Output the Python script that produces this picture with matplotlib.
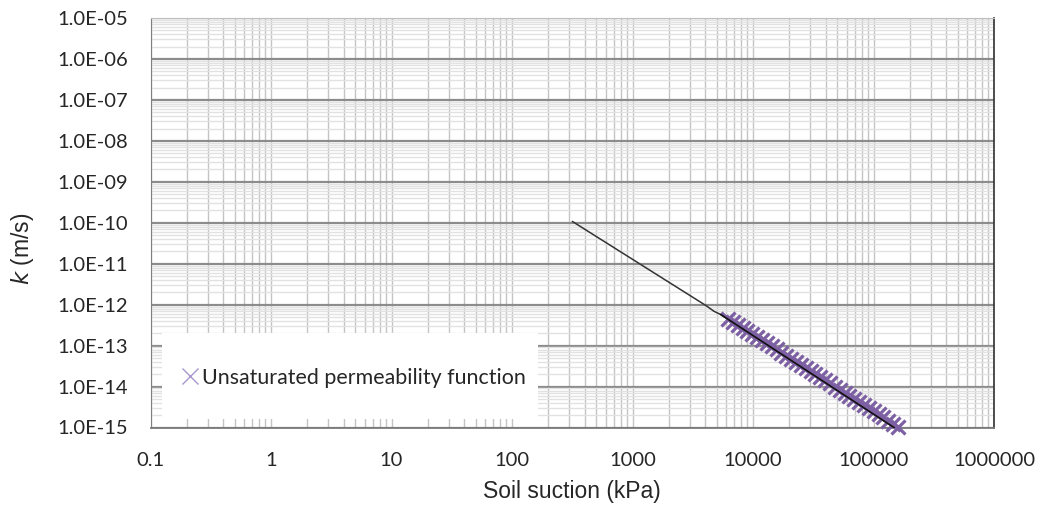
import matplotlib
matplotlib.use("Agg")
import matplotlib.pyplot as plt
from matplotlib.lines import Line2D
from matplotlib.patches import Rectangle
from matplotlib.ticker import LogLocator, FixedLocator, FixedFormatter, NullFormatter

# ---- data ----
line_suction = [318, 4070, 4740, 5420, 148000]
line_k = [1.07e-10, 9.5e-13, 6.9e-13, 5.7e-13, 1.0e-15]

marker_suction = [6194, 6797, 7459, 8185, 8982, 9856, 10814, 11869, 13024, 14293,
                  15682, 17207, 18887, 20724, 22744, 24957, 27384, 30055, 32978, 36192,
                  39710, 43571, 47823, 52475, 57589, 63168, 69310, 76066, 83466, 91601,
                  100508, 110285, 121034, 132806, 145749, 159956]
marker_k = [4.57e-13, 3.84e-13, 3.23e-13, 2.71e-13, 2.28e-13, 1.92e-13, 1.61e-13, 1.35e-13,
            1.14e-13, 9.57e-14, 8.04e-14, 6.76e-14, 5.68e-14, 4.78e-14, 4.02e-14, 3.38e-14,
            2.84e-14, 2.38e-14, 2.00e-14, 1.68e-14, 1.42e-14, 1.19e-14, 1.00e-14, 8.41e-15,
            7.07e-15, 5.94e-15, 4.99e-15, 4.20e-15, 3.53e-15, 2.97e-15, 2.49e-15, 2.10e-15,
            1.76e-15, 1.48e-15, 1.24e-15, 1.05e-15]

x_ticks = [0.1, 1, 10, 100, 1000, 10000, 100000, 1000000]
x_tick_labels = ["0.1", "1", "10", "100", "1000", "10000", "100000", "1000000"]
y_ticks = [1e-15, 1e-14, 1e-13, 1e-12, 1e-11, 1e-10, 1e-9, 1e-8, 1e-7, 1e-6, 1e-5]
y_tick_labels = ["1.0E-15", "1.0E-14", "1.0E-13", "1.0E-12", "1.0E-11", "1.0E-10",
                 "1.0E-09", "1.0E-08", "1.0E-07", "1.0E-06", "1.0E-05"]
legend_label = "Unsaturated permeability function"

# ---- figure ----
fig = plt.figure(figsize=(10.4, 5.07), dpi=100)
W, H = 1040, 507
L, R, T, B = 150.5, 994, 18, 427.5
ax = fig.add_axes([L / W, (H - B) / H, (R - L) / W, (B - T) / H])

ax.set_xscale("log")
ax.set_yscale("log")
ax.set_xlim(0.1, 1e6)
ax.set_ylim(1e-15, 1e-5)

tick_font = "Lato"
txt_color = "#262626"

ax.xaxis.set_major_locator(FixedLocator(x_ticks))
ax.xaxis.set_major_formatter(FixedFormatter(x_tick_labels))
ax.yaxis.set_major_locator(FixedLocator(y_ticks))
ax.yaxis.set_major_formatter(FixedFormatter(y_tick_labels))
ax.xaxis.set_minor_locator(LogLocator(base=10, subs=range(2, 10), numticks=50))
ax.yaxis.set_minor_locator(LogLocator(base=10, subs=range(2, 10), numticks=50))
ax.xaxis.set_minor_formatter(NullFormatter())
ax.yaxis.set_minor_formatter(NullFormatter())

ax.tick_params(which="both", length=0)
ax.tick_params(axis="y", which="major", pad=16, labelsize=14.5, labelcolor=txt_color)
ax.tick_params(axis="x", which="major", pad=18, labelsize=14.5, labelcolor=txt_color)
for lab in ax.get_xticklabels() + ax.get_yticklabels():
    lab.set_fontfamily(tick_font)

ax.set_axisbelow(True)
ax.grid(axis="x", which="both", color="#c4c4c4", lw=1.0)
ax.grid(axis="y", which="minor", color="#e2e2e2", lw=1.0)
ax.grid(axis="y", which="major", color="#8c8c8c", lw=1.6)

ax.spines["left"].set_color("#808080")
ax.spines["bottom"].set_color("#7a7a7a")
ax.spines["bottom"].set_linewidth(1.3)
ax.spines["top"].set_color("#bdbdbd")
ax.spines["right"].set_color("#303030")
ax.spines["right"].set_linewidth(1.2)

# legend background box
ax.add_patch(Rectangle((0.0136, 0.0208), 0.4458, 0.21, transform=ax.transAxes,
                       facecolor="white", edgecolor="none", zorder=1.5))

# data
ax.plot(line_suction, line_k, color="#333333", lw=1.1, zorder=3)
ax.plot(marker_suction, marker_k, linestyle="none", marker="x", markersize=10.5,
        markeredgewidth=2.3, color="#7d5fa3", zorder=3.5, clip_on=False)
ax.plot(line_suction[3:], line_k[3:], color="#111111", lw=1.2, zorder=4)

# legend
handle = Line2D([], [], linestyle="none", marker="x", markersize=11,
                markeredgewidth=1.0, color="#a898cc")
leg = ax.legend([handle], [legend_label], loc="center left",
                bbox_to_anchor=(0.0225, 0.121), frameon=False,
                handlelength=0.9, handletextpad=0.1, borderpad=0,
                prop={"family": tick_font, "size": 15.4})
for t in leg.get_texts():
    t.set_color(txt_color)

ax.set_xlabel("Soil suction (kPa)", family="Liberation Sans", fontsize=16.5, color=txt_color)
ax.xaxis.set_label_coords(0.5, -0.1575)
ax.set_ylabel(r"$\it{k}$ (m/s)", family="Liberation Sans", fontsize=16.5, color=txt_color)
ax.yaxis.set_label_coords(-0.152, 0.436)
ax.yaxis.label.set_va("center")
ax.xaxis.label.set_va("center")

fig.savefig("out.png", dpi=100)
